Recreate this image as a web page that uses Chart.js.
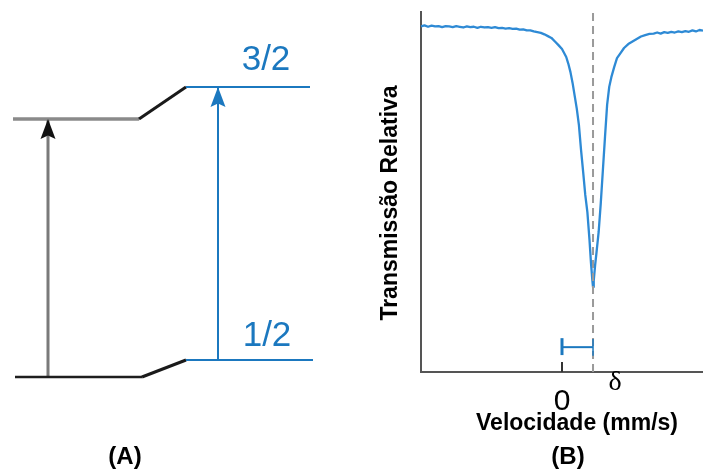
<!DOCTYPE html>
<html>
<head>
<meta charset="utf-8">
<script src="https://cdn.jsdelivr.net/npm/chart.js@4.4.1/dist/chart.umd.min.js"></script>
<style>
  html, body { margin: 0; padding: 0; background: #ffffff; }
  body { width: 703px; height: 473px; position: relative; overflow: hidden; }
  canvas { position: absolute; top: 0; }
  #chartA { left: 0; }
  #chartB { left: 360px; }
</style>
</head>
<body>
<canvas id="chartA" width="360" height="473"></canvas>
<canvas id="chartB" width="343" height="473"></canvas>
<script>
// ---------- Panel (A): energy level scheme (arbitrary energy units) ----------
const sourceGroundX = [15, 142];
const sourceGroundE = [0, 0];
const sourceExcitedX = [13, 139];
const sourceExcitedE = [258, 258];
const groundShiftX = [142, 186];
const groundShiftE = [0, 17];
const excitedShiftX = [139, 186];
const excitedShiftE = [258, 290];
const absorberGroundX = [186, 313];
const absorberGroundE = [17, 17];
const absorberExcitedX = [186, 310];
const absorberExcitedE = [290, 290];
const sourceArrowX = [48, 48];
const sourceArrowE = [0, 258];
const absorberArrowX = [218, 218];
const absorberArrowE = [17, 290];
const spinLabels = ['3/2', '1/2'];

// ---------- Panel (B): Mössbauer spectrum ----------
const velocity = [
  -2.00,-1.95,-1.90,-1.85,-1.80,-1.75,-1.70,-1.65,-1.60,-1.55,-1.50,-1.45,-1.40,-1.35,-1.30,-1.25,
  -1.20,-1.15,-1.10,-1.05,-1.00,-0.95,-0.90,-0.85,-0.80,-0.75,-0.70,-0.65,-0.60,-0.55,-0.50,-0.45,-0.40,
  -0.35,-0.30,-0.25,-0.20,-0.15,-0.10,-0.05,0.00,0.03,0.06,0.09,0.12,0.15,0.18,0.21,0.24,0.27,0.30,
  0.33,0.36,0.39,0.41,0.43,0.44,0.45,0.47,0.49,0.52,0.55,0.58,0.61,0.64,0.67,0.70,0.74,0.78,0.83,
  0.88,0.94,1.00,1.06,1.12,1.18,1.24,1.30,1.35,1.40,1.45,1.50,1.55,1.60,1.65,1.70,1.75,1.80,1.85,
  1.90,1.95,2.00
];
const transmission = [
  96.0,96.3,95.9,96.2,96.0,96.1,95.8,96.1,96.0,95.8,96.1,95.9,95.7,96.0,95.8,95.9,
  95.6,95.9,95.7,95.8,95.6,95.8,95.5,95.6,95.4,95.5,95.3,95.4,95.1,95.2,94.9,94.9,94.6,
  94.4,94.2,93.8,93.3,92.8,91.8,90.8,89.7,88.6,87.5,85.6,83.3,80.3,76.7,73.1,68.6,61.7,55.6,
  49.2,44.4,36.7,30.6,25.6,23.6,25.3,29.7,33.3,38.9,46.9,56.1,65.3,74.2,79.2,81.9,84.7,87.2,88.6,
  90.0,91.1,91.8,92.5,93.2,93.6,93.9,94.0,94.3,94.0,94.4,94.2,94.5,94.3,94.6,94.4,94.7,94.5,94.9,
  94.6,95.0,94.8
];
const isomerShift = 0.44;          // delta, mm/s
const velocityRange = [-2, 2];
const transmissionRange = [0, 100];
const xTickValues = [0];
const xTickLabels = ['0'];
const xAxisTitle = 'Velocidade (mm/s)';
const yAxisTitle = 'Transmissão Relativa';
const panelLabels = ['(A)', '(B)'];
const deltaLabel = 'δ';

const BLUE = '#1b78bf';
const CURVE = '#2e8ad5';

function pts(xs, ys) { return xs.map((x, i) => ({ x: x, y: ys[i] })); }

function arrowHead(color) {
  const c = document.createElement('canvas');
  c.width = 18; c.height = 44;
  const g = c.getContext('2d');
  g.fillStyle = color;
  g.beginPath();
  g.moveTo(9, 22);
  g.lineTo(16.5, 42);
  g.lineTo(9, 38.5);
  g.lineTo(1.5, 42);
  g.closePath();
  g.fill();
  return c;
}

let drawOrder = 100;
function seg(data, color, width, extra) {
  drawOrder -= 1;
  return Object.assign({
    data: data, showLine: true, borderColor: color, borderWidth: width,
    pointRadius: 0, fill: false, clip: false, borderCapStyle: 'butt', order: drawOrder
  }, extra || {});
}

// ---------- Chart A ----------
const textA = {
  id: 'textA',
  afterDraw(chart) {
    const ctx = chart.ctx;
    const xs = chart.scales.x, ys = chart.scales.y;
    ctx.save();
    ctx.textAlign = 'center';
    ctx.textBaseline = 'alphabetic';
    ctx.fillStyle = BLUE;
    ctx.font = '35px "Liberation Sans", Arial, sans-serif';
    ctx.fillText(spinLabels[0], xs.getPixelForValue(266), ys.getPixelForValue(absorberExcitedE[0]) - 17);
    ctx.fillText(spinLabels[1], xs.getPixelForValue(267), ys.getPixelForValue(absorberGroundE[0]) - 14);
    ctx.fillStyle = '#000000';
    ctx.font = 'bold 24px "Liberation Sans", Arial, sans-serif';
    ctx.fillText(panelLabels[0], 125, 464);
    ctx.restore();
  }
};

new Chart(document.getElementById('chartA'), {
  type: 'scatter',
  data: {
    datasets: [
      seg(pts(sourceArrowX, sourceArrowE), '#7a7a7a', 3),
      seg(pts(absorberArrowX, absorberArrowE), BLUE, 2),
      seg(pts(sourceExcitedX, sourceExcitedE), '#8a8a8a', 3.5),
      seg(pts(sourceGroundX, sourceGroundE), '#1e1e1e', 2.5),
      seg(pts(excitedShiftX, excitedShiftE), '#1a1a1a', 3),
      seg(pts(groundShiftX, groundShiftE), '#1a1a1a', 3),
      seg(pts(absorberExcitedX, absorberExcitedE), BLUE, 2),
      seg(pts(absorberGroundX, absorberGroundE), BLUE, 2),
      { data: [{ x: sourceArrowX[1], y: sourceArrowE[1] }], showLine: false, pointStyle: arrowHead('#111111'), pointRadius: 9, clip: false, order: 1 },
      { data: [{ x: absorberArrowX[1], y: absorberArrowE[1] }], showLine: false, pointStyle: arrowHead(BLUE), pointRadius: 9, clip: false, order: 0 }
    ]
  },
  options: {
    responsive: false, animation: false, devicePixelRatio: 1,
    layout: { padding: 0, autoPadding: false },
    plugins: { legend: { display: false }, tooltip: { enabled: false } },
    scales: {
      x: { type: 'linear', display: false, min: 0, max: 360 },
      y: { type: 'linear', display: false, min: -96, max: 377 }
    }
  },
  plugins: [textA]
});

// ---------- Chart B ----------
const textB = {
  id: 'textB',
  afterDraw(chart) {
    const ctx = chart.ctx;
    const xs = chart.scales.x, ys = chart.scales.y;
    const area = chart.chartArea;
    ctx.save();
    ctx.fillStyle = '#000000';
    ctx.textAlign = 'center';
    ctx.textBaseline = 'alphabetic';
    ctx.font = '30px "Liberation Sans", Arial, sans-serif';
    xTickValues.forEach((v, i) => ctx.fillText(xTickLabels[i], xs.getPixelForValue(v), area.bottom + 38));
    ctx.font = '28px "Liberation Serif", "Times New Roman", serif';
    ctx.fillText(deltaLabel, xs.getPixelForValue(isomerShift) + 22, area.bottom + 18);
    ctx.font = 'bold 23px "Liberation Sans", Arial, sans-serif';
    ctx.fillText(xAxisTitle, 217, 430);
    ctx.font = 'bold 24px "Liberation Sans", Arial, sans-serif';
    ctx.fillText(panelLabels[1], 208, 464);
    ctx.translate(37, 203);
    ctx.rotate(-Math.PI / 2);
    ctx.font = 'bold 23px "Liberation Sans", Arial, sans-serif';
    ctx.fillText(yAxisTitle, 0, 0);
    ctx.restore();
  }
};

drawOrder = 100;
new Chart(document.getElementById('chartB'), {
  type: 'scatter',
  data: {
    datasets: [
      seg(pts(velocity, transmission), CURVE, 2.3, { tension: 0, borderJoinStyle: 'round' }),
      seg(pts([isomerShift, isomerShift], [0, 100.6]), '#9a9a9a', 2, { borderDash: [8, 5] }),
      seg(pts([0, isomerShift], [6.9, 6.9]), BLUE, 2),
      seg(pts([0, 0], [4.7, 9.4]), BLUE, 3),
      seg(pts([isomerShift, isomerShift], [4.5, 9.2]), BLUE, 1.5),
      seg(pts([0, 0], [0, 2.8]), '#333333', 2)
    ]
  },
  options: {
    responsive: false, animation: false, devicePixelRatio: 1,
    layout: { padding: { left: 61, top: 12, right: 0, bottom: 101 }, autoPadding: false },
    plugins: { legend: { display: false }, tooltip: { enabled: false } },
    scales: {
      x: {
        type: 'linear', min: velocityRange[0], max: velocityRange[1],
        ticks: { display: false },
        grid: { display: false, drawTicks: false },
        border: { display: true, color: '#555555', width: 2 }
      },
      y: {
        type: 'linear', min: transmissionRange[0], max: transmissionRange[1],
        ticks: { display: false },
        grid: { display: false, drawTicks: false },
        border: { display: true, color: '#555555', width: 2 }
      }
    }
  },
  plugins: [textB]
});
</script>
</body>
</html>
